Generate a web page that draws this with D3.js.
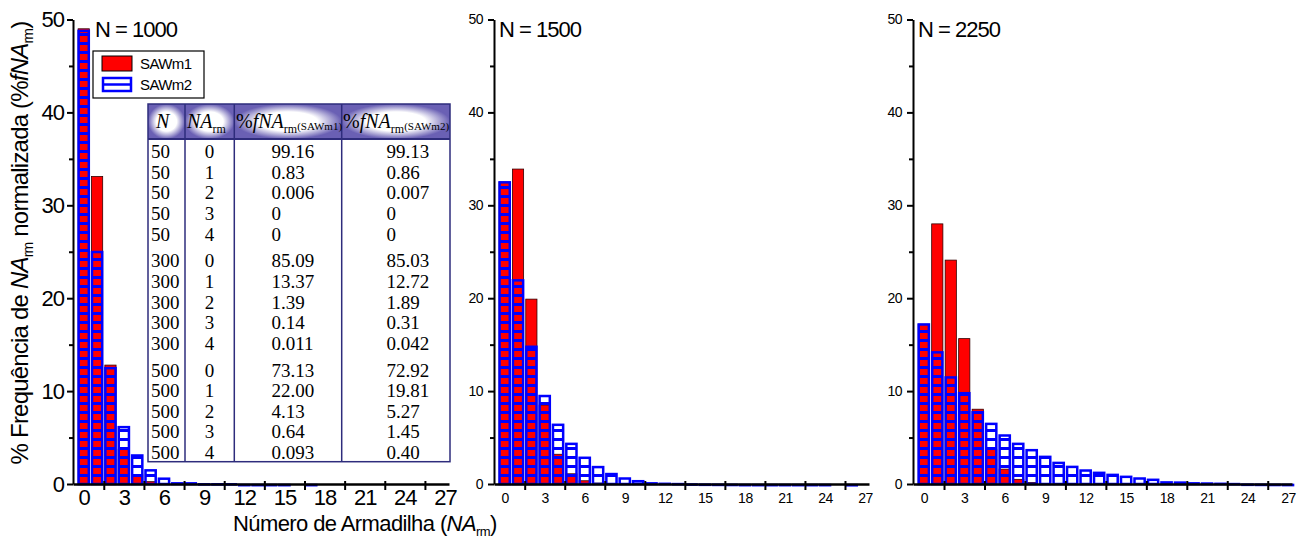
<!DOCTYPE html>
<html>
<head>
<meta charset="utf-8">
<script src="https://cdn.jsdelivr.net/npm/d3@7"></script>
<style>
  body { margin: 0; background: #fff; }
  svg { display: block; font-family: "Liberation Sans", Arial, sans-serif; }
  .tab { font-family: "Liberation Serif", "Times New Roman", serif; }
</style>
</head>
<body>
<svg width="1302" height="540"></svg>
<script>
const width = 1302;
const height = 540;

// categories (number of traps) and tick labels
const categories = [0, 1, 2, 3, 4, 5, 6, 7, 8, 9, 10, 11, 12, 13, 14, 15, 16, 17, 18, 19, 20, 21, 22, 23, 24, 25, 26, 27];
const xTickLabels = [0, 3, 6, 9, 12, 15, 18, 21, 24, 27];
const xTickMarks = [1.5, 4.5, 7.5, 10.5, 13.5, 16.5, 19.5, 22.5, 25.5];
const yTickLabels = [0, 10, 20, 30, 40, 50];
const yMinorTicks = [5, 15, 25, 35, 45];

// N = 1000
const sawm1_N1000 = [49.0, 33.1, 12.8, 3.75, 1.0, 0.25, 0.05, 0.01, 0, 0, 0, 0, 0, 0, 0, 0, 0, 0, 0, 0, 0, 0, 0, 0, 0, 0, 0, 0];
const sawm2_N1000 = [48.9, 25.1, 12.6, 6.25, 3.2, 1.6, 0.7, 0.2, 0.2, 0.1, 0.1, 0.1, 0.02, 0.02, 0.02, 0.02, 0, 0.02, 0, 0, 0, 0, 0, 0, 0, 0, 0, 0];
// N = 1500
const sawm1_N1500 = [32.5, 33.9, 19.9, 8.5, 3.2, 1.1, 0.35, 0.1, 0.03, 0.01, 0, 0, 0, 0, 0, 0, 0, 0, 0, 0, 0, 0, 0, 0, 0, 0, 0, 0];
const sawm2_N1500 = [32.6, 22.05, 14.9, 9.6, 6.5, 4.45, 2.95, 1.95, 1.2, 0.72, 0.43, 0.2, 0.15, 0.12, 0.08, 0.06, 0.05, 0.04, 0.02, 0.02, 0.02, 0.02, 0.02, 0.02, 0.02, 0, 0.01, 0];
// N = 2250
const sawm1_N2250 = [17.2, 28.0, 24.1, 15.65, 8.05, 3.75, 1.6, 0.5, 0.15, 0.05, 0.02, 0, 0, 0, 0, 0, 0, 0, 0, 0, 0, 0, 0, 0, 0, 0, 0, 0];
const sawm2_N2250 = [17.3, 14.3, 11.6, 9.9, 7.85, 6.6, 5.35, 4.45, 3.77, 3.05, 2.4, 1.97, 1.58, 1.33, 1.11, 0.9, 0.72, 0.58, 0.3, 0.28, 0.2, 0.18, 0.15, 0.12, 0.06, 0.05, 0.04, 0.03];

// inset table
const tableN = ["50", "50", "50", "50", "50", "300", "300", "300", "300", "300", "500", "500", "500", "500", "500"];
const tableNA = ["0", "1", "2", "3", "4", "0", "1", "2", "3", "4", "0", "1", "2", "3", "4"];
const tableSAWm1 = ["99.16", "0.83", "0.006", "0", "0", "85.09", "13.37", "1.39", "0.14", "0.011", "73.13", "22.00", "4.13", "0.64", "0.093"];
const tableSAWm2 = ["99.13", "0.86", "0.007", "0", "0", "85.03", "12.72", "1.89", "0.31", "0.042", "72.92", "19.81", "5.27", "1.45", "0.40"];

const red = "#ff0000";
const blue = "#0000ff";
const navy = "#2e2c7c";

const svg = d3.select("svg").attr("width", width).attr("height", height);
const defs = svg.append("defs");

// horizontal line pattern for the SAWm2 bars (holes let red show through)
defs.append("pattern")
  .attr("id", "hatch")
  .attr("patternUnits", "userSpaceOnUse")
  .attr("width", 20)
  .attr("height", 9)
  .attr("y", 484 - 1)
  .append("rect")
  .attr("width", 20)
  .attr("height", 3)
  .attr("fill", blue);

const grad = defs.append("radialGradient").attr("id", "glow");
grad.append("stop").attr("offset", "0%").attr("stop-color", "#fff");
grad.append("stop").attr("offset", "55%").attr("stop-color", "#fff");
grad.append("stop").attr("offset", "100%").attr("stop-color", "#6a60b4");

const panels = [
  { title: "N = 1000", s1: sawm1_N1000, s2: sawm2_N1000, left: 73, right: 449, big: true },
  { title: "N = 1500", s1: sawm1_N1500, s2: sawm2_N1500, left: 494, right: 869, big: false },
  { title: "N = 2250", s1: sawm1_N2250, s2: sawm2_N2250, left: 913, right: 1292, big: false },
];

const y = d3.scaleLinear().domain([0, 50]).range([484, 19.5]);

panels.forEach((p) => {
  const x = d3.scaleLinear().domain([-0.8, 27.3]).range([p.left, p.right]);
  const g = svg.append("g");
  const fs = p.big ? 22 : 14;

  // red bars (SAWm1)
  g.append("g")
    .selectAll("rect")
    .data(categories.filter((c) => p.s1[c] > 0))
    .join("rect")
    .attr("x", (c) => x(c) - 5.6)
    .attr("width", 11.2)
    .attr("y", (c) => y(p.s1[c]))
    .attr("height", (c) => y(0) - y(p.s1[c]))
    .attr("fill", red)
    .attr("stroke", "#300")
    .attr("stroke-width", 0.8);

  // blue hatched bars (SAWm2) on top
  g.append("g")
    .selectAll("rect")
    .data(categories.filter((c) => p.s2[c] > 0))
    .join("rect")
    .attr("x", (c) => x(c) - 5.1)
    .attr("width", 10.2)
    .attr("y", (c) => y(p.s2[c]) + 1.2)
    .attr("height", (c) => Math.max(0.2, y(0) - y(p.s2[c]) - 1.2))
    .attr("fill", "url(#hatch)")
    .attr("stroke", blue)
    .attr("stroke-width", 2.5);

  // y axis
  const yAxis = g.append("g")
    .attr("transform", `translate(${p.left},0)`)
    .call(d3.axisLeft(y).tickValues(yTickLabels).tickSize(6).tickSizeOuter(0).tickPadding(p.big ? 3 : 5));
  yAxis.select(".domain").attr("stroke-width", 2);
  yAxis.selectAll(".tick line").attr("stroke-width", 2);
  yAxis.selectAll(".tick text")
    .style("font-size", fs + "px")
    .style("letter-spacing", p.big ? "-1px" : "-0.5px")
    .attr("fill", "#000");

  const yMinor = g.append("g")
    .attr("transform", `translate(${p.left},0)`)
    .call(d3.axisLeft(y).tickValues(yMinorTicks).tickSize(4).tickFormat(""));
  yMinor.select(".domain").remove();
  yMinor.selectAll(".tick line").attr("stroke-width", 2);

  // x axis: marks between labels, labels without marks
  const xAxis = g.append("g")
    .attr("transform", `translate(0,${y(0)})`)
    .call(d3.axisBottom(x).tickValues(xTickMarks).tickSize(6).tickSizeOuter(0).tickFormat(""));
  xAxis.select(".domain").attr("stroke-width", 2.5);
  xAxis.selectAll(".tick line").attr("y1", -3).attr("stroke-width", 2);

  const xLabels = g.append("g")
    .attr("transform", `translate(0,${y(0)})`)
    .call(d3.axisBottom(x).tickValues(xTickLabels).tickSize(0).tickPadding(p.big ? 5 : 9));
  xLabels.select(".domain").remove();
  xLabels.selectAll(".tick text")
    .style("font-size", fs + "px")
    .style("letter-spacing", p.big ? "-1px" : "-0.5px")
    .attr("fill", "#000");

  // panel title
  g.append("text")
    .attr("x", p.left + (p.big ? 22 : 5))
    .attr("y", 37)
    .style("font-size", "22px")
    .style("letter-spacing", "-1px")
    .text(p.title);
});

// legend
const legend = svg.append("g").attr("transform", "translate(93,51)");
legend.append("rect").attr("width", 111).attr("height", 47)
  .attr("fill", "#fff").attr("stroke", "#000").attr("stroke-width", 1.2);
legend.append("rect").attr("x", 9).attr("y", 5).attr("width", 30).attr("height", 15)
  .attr("fill", red).attr("stroke", "#000").attr("stroke-width", 1);
legend.append("rect").attr("x", 10).attr("y", 27).attr("width", 28).attr("height", 13)
  .attr("fill", "#fff").attr("stroke", blue).attr("stroke-width", 2.5);
legend.append("line").attr("x1", 10).attr("x2", 38).attr("y1", 33.5).attr("y2", 33.5)
  .attr("stroke", blue).attr("stroke-width", 2.5);
legend.selectAll("text.lg")
  .data(["SAWm1", "SAWm2"])
  .join("text")
  .attr("class", "lg")
  .attr("x", 47)
  .attr("y", (d, i) => 18 + i * 21)
  .style("font-size", "15px")
  .style("letter-spacing", "-0.6px")
  .text((d) => d);

// inset table
const tbl = svg.append("g").attr("class", "tab");
const colX = [148, 185, 234.3, 341.7, 450];
const tTop = 104, tHead = 139, tBottom = 461.7;
tbl.append("rect").attr("x", colX[0]).attr("y", tTop)
  .attr("width", colX[4] - colX[0]).attr("height", tBottom - tTop).attr("fill", "#fff");
for (let i = 0; i < 4; i++) {
  tbl.append("rect").attr("x", colX[i]).attr("y", tTop)
    .attr("width", colX[i + 1] - colX[i]).attr("height", tHead - tTop)
    .attr("fill", "url(#glow)");
}
tbl.append("rect").attr("x", colX[0]).attr("y", tTop)
  .attr("width", colX[4] - colX[0]).attr("height", tBottom - tTop)
  .attr("fill", "none").attr("stroke", navy).attr("stroke-width", 1.5);
tbl.append("line").attr("x1", colX[0]).attr("x2", colX[4]).attr("y1", tHead).attr("y2", tHead)
  .attr("stroke", navy).attr("stroke-width", 2);
colX.slice(1, 4).forEach((cx) => {
  tbl.append("line").attr("x1", cx).attr("x2", cx).attr("y1", tTop).attr("y2", tBottom)
    .attr("stroke", navy).attr("stroke-width", 1.5);
});

// header
const hy = 128;
tbl.append("text").attr("x", 156).attr("y", hy).style("font-size", "20px")
  .style("font-style", "italic").text("N");
const h2 = tbl.append("text").attr("x", 187).attr("y", hy).style("font-size", "20px");
h2.append("tspan").style("font-style", "italic").text("NA");
h2.append("tspan").attr("dy", 5).style("font-size", "12px").text("rm");
[["SAWm1", 236], ["SAWm2", 343]].forEach(([lab, hx]) => {
  const t = tbl.append("text").attr("x", hx).attr("y", hy).style("font-size", "20px");
  t.append("tspan").text("%");
  t.append("tspan").style("font-style", "italic").text("fNA");
  t.append("tspan").attr("dy", 5).style("font-size", "12px").text("rm");
  t.append("tspan").attr("dy", -3).style("font-size", "11px").text("(" + lab + ")");
});

// body rows
const rowY = (i) => 158.3 + i * 20.55 + Math.floor(i / 5) * 6.4;
const rows = tbl.selectAll("g.row")
  .data(tableN.map((n, i) => i))
  .join("g")
  .attr("class", "row")
  .style("font-size", "19px");
rows.append("text").attr("x", 151).attr("y", rowY).text((i) => tableN[i]);
rows.append("text").attr("x", 209.5).attr("y", rowY).attr("text-anchor", "middle").text((i) => tableNA[i]);
rows.append("text").attr("x", 271.5).attr("y", rowY).text((i) => tableSAWm1[i]);
rows.append("text").attr("x", 386.5).attr("y", rowY).text((i) => tableSAWm2[i]);

// axis titles
const yt = svg.append("text")
  .attr("transform", "translate(28,243) rotate(-90)")
  .attr("text-anchor", "middle")
  .style("font-size", "24px")
  .style("letter-spacing", "-0.8px");
yt.append("tspan").text("% Frequência de ");
yt.append("tspan").style("font-style", "italic").text("NA");
yt.append("tspan").attr("dy", 5).style("font-size", "14px").text("rm");
yt.append("tspan").attr("dy", -5).text(" normalizada (%");
yt.append("tspan").style("font-style", "italic").text("fNA");
yt.append("tspan").attr("dy", 5).style("font-size", "14px").text("rm");
yt.append("tspan").attr("dy", -5).text(")");

const xt = svg.append("text")
  .attr("x", 233)
  .attr("y", 531)
  .style("font-size", "22px")
  .style("letter-spacing", "-0.6px");
xt.append("tspan").text("Número de Armadilha (");
xt.append("tspan").style("font-style", "italic").text("NA");
xt.append("tspan").attr("dy", 5).style("font-size", "13px").text("rm");
xt.append("tspan").attr("dy", -5).text(")");
</script>
</body>
</html>
